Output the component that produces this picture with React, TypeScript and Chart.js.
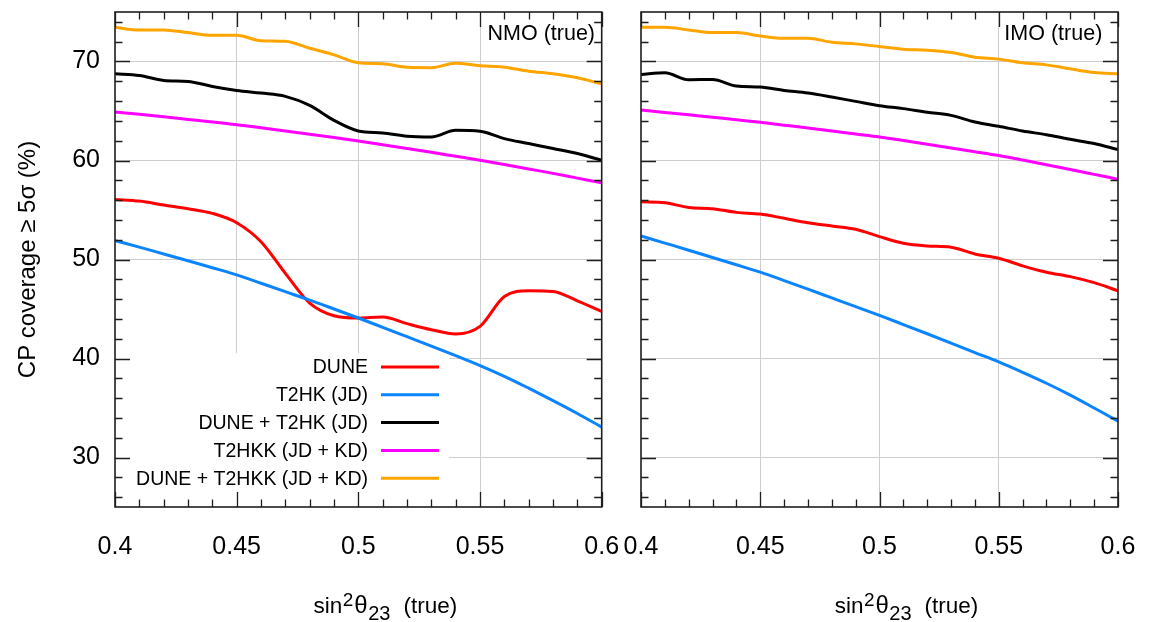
import React, { useEffect, useRef } from 'react';
import { Chart, registerables } from 'chart.js';

Chart.register(...registerables);

const FONT = '"Liberation Sans", Arial, Helvetica, sans-serif';

// sin^2(theta23) sampling points
const xValues = [0.40, 0.41, 0.42, 0.43, 0.44, 0.45, 0.46, 0.47, 0.48, 0.49, 0.50,
  0.51, 0.52, 0.53, 0.54, 0.55, 0.56, 0.57, 0.58, 0.59, 0.60];

// NMO (true) panel
const nmoDune = [56.07, 55.9, 55.5, 55.13, 54.66, 53.72, 51.8, 48.6, 45.6, 44.32, 44.09,
  44.19, 43.52, 42.91, 42.48, 43.25, 46.27, 46.84, 46.77, 45.83, 44.75];
const nmoT2hk = [51.9, 51.25, 50.56, 49.87, 49.17, 48.45, 47.6, 46.75, 45.9, 45.0, 44.09,
  43.15, 42.2, 41.25, 40.28, 39.29, 38.2, 37.0, 35.75, 34.45, 33.07];
const nmoDuneT2hk = [68.76, 68.59, 68.09, 67.99, 67.48, 67.08, 66.81, 66.48, 65.57, 64.06, 62.98,
  62.78, 62.45, 62.38, 63.05, 62.95, 62.21, 61.71, 61.21, 60.7, 60.03];
const nmoT2hkk = [64.9, 64.66, 64.41, 64.15, 63.89, 63.62, 63.31, 62.99, 62.66, 62.32, 61.97,
  61.6, 61.22, 60.83, 60.43, 60.03, 59.6, 59.15, 58.7, 58.22, 57.74];
const nmoDuneT2hkk = [73.45, 73.19, 73.19, 72.92, 72.65, 72.65, 72.1, 72.04, 71.34, 70.67, 69.87,
  69.77, 69.42, 69.38, 69.83, 69.57, 69.43, 69.02, 68.76, 68.36, 67.75];

// IMO (true) panel
const imoDune = [55.83, 55.73, 55.26, 55.13, 54.76, 54.59, 54.16, 53.72, 53.38, 53.05, 52.31,
  51.64, 51.37, 51.24, 50.56, 50.13, 49.36, 48.72, 48.27, 47.66, 46.84];
const imoT2hk = [52.38, 51.66, 50.94, 50.2, 49.47, 48.72, 47.87, 47.0, 46.12, 45.24, 44.35,
  43.43, 42.5, 41.56, 40.6, 39.65, 38.6, 37.5, 36.3, 35.0, 33.68];
const imoDuneT2hk = [68.69, 68.86, 68.16, 68.19, 67.52, 67.42, 67.08, 66.81, 66.41, 65.97, 65.54,
  65.24, 64.87, 64.56, 63.89, 63.46, 62.98, 62.61, 62.14, 61.71, 61.1];
const imoT2hkk = [65.1, 64.86, 64.62, 64.37, 64.12, 63.86, 63.57, 63.28, 62.98, 62.68, 62.38,
  62.02, 61.65, 61.27, 60.89, 60.5, 60.05, 59.58, 59.1, 58.6, 58.1];
const imoDuneT2hkk = [73.45, 73.45, 73.19, 72.92, 72.92, 72.58, 72.35, 72.35, 71.95, 71.78, 71.51,
  71.24, 71.14, 70.91, 70.44, 70.24, 69.87, 69.66, 69.26, 68.89, 68.76];

const seriesLabels = ['DUNE', 'T2HK (JD)', 'DUNE + T2HK (JD)', 'T2HKK (JD + KD)', 'DUNE + T2HKK (JD + KD)'];
const seriesColors = ['#ff0000', '#0a84ff', '#000000', '#ff00ff', '#ffa500'];

const xMajorTicks = [0.4, 0.45, 0.5, 0.55, 0.6];
const xTickLabels = ['0.4', '0.45', '0.5', '0.55', '0.6'];
const xMinorTicks = [0.41, 0.42, 0.43, 0.44, 0.46, 0.47, 0.48, 0.49, 0.51, 0.52, 0.53, 0.54,
  0.56, 0.57, 0.58, 0.59];
const yMajorTicks = [30, 40, 50, 60, 70];
const yTickLabels = ['30', '40', '50', '60', '70'];
const yMinorTicks = [26, 28, 32, 34, 36, 38, 42, 44, 46, 48, 52, 54, 56, 58, 62, 64, 66, 68, 72, 74];

const yTitle = 'CP coverage ≥ 5σ (%)';
const panelLabels = ['NMO (true)', 'IMO (true)'];
// x-axis title pieces: text, font size, baseline shift, extra gap before
const xTitleParts = [
  { text: 'sin', size: 22.5, dy: 0, gap: 0 },
  { text: '2', size: 19, dy: -7, gap: 0.5 },
  { text: 'θ', size: 24, dy: 0, gap: 1 },
  { text: '23', size: 20, dy: 7, gap: 0.5 },
  { text: '(true)', size: 22.5, dy: 0, gap: 13 },
];

const framePlugin = {
  id: 'frame',
  afterDraw(chart: any) {
    const { ctx, chartArea: a, scales } = chart;
    const xs = scales.x;
    const ys = scales.y;
    ctx.save();
    ctx.strokeStyle = '#1e1e1e';
    ctx.lineWidth = 1.3;
    ctx.beginPath();
    const xTick = (v: number, len: number) => {
      const px = Math.round(xs.getPixelForValue(v)) + 0.5;
      ctx.moveTo(px, a.bottom); ctx.lineTo(px, a.bottom - len);
      ctx.moveTo(px, a.top); ctx.lineTo(px, a.top + len);
    };
    const yTick = (v: number, len: number) => {
      const py = Math.round(ys.getPixelForValue(v)) + 0.5;
      ctx.moveTo(a.left, py); ctx.lineTo(a.left + len, py);
      ctx.moveTo(a.right, py); ctx.lineTo(a.right - len, py);
    };
    xMajorTicks.forEach((v) => xTick(v, 15));
    xMinorTicks.forEach((v) => xTick(v, 7.5));
    yMajorTicks.forEach((v) => yTick(v, 15));
    yMinorTicks.forEach((v) => yTick(v, 7.5));
    ctx.stroke();
    ctx.lineWidth = 1.6;
    ctx.strokeRect(a.left, a.top, a.right - a.left, a.bottom - a.top);
    ctx.restore();
  },
};

const xTitlePlugin = {
  id: 'xTitle',
  afterDraw(chart: any) {
    const { ctx, chartArea: a } = chart;
    ctx.save();
    ctx.fillStyle = '#000';
    ctx.textAlign = 'left';
    ctx.textBaseline = 'alphabetic';
    const widths = xTitleParts.map((p) => {
      ctx.font = p.size + 'px ' + FONT;
      return ctx.measureText(p.text).width;
    });
    const total = xTitleParts.reduce((s, p, i) => s + p.gap + widths[i], 0);
    let x = (a.left + a.right) / 2 + 27 - total / 2;
    const base = a.bottom + 106;
    xTitleParts.forEach((p, i) => {
      x += p.gap;
      ctx.font = p.size + 'px ' + FONT;
      ctx.fillText(p.text, x, base + p.dy);
      x += widths[i];
    });
    ctx.restore();
  },
};

const makePanelLabelPlugin = (text: string, rightGap: number) => ({
  id: 'panelLabel',
  afterDraw(chart: any) {
    const { ctx, chartArea: a } = chart;
    ctx.save();
    ctx.fillStyle = '#000';
    ctx.font = '21.5px ' + FONT;
    ctx.textAlign = 'right';
    ctx.textBaseline = 'alphabetic';
    ctx.fillText(text, a.right - rightGap, a.top + 28);
    ctx.restore();
  },
});

const legendPlugin = {
  id: 'insetLegend',
  beforeDatasetsDraw(chart: any) {
    const { ctx, chartArea: a } = chart;
    ctx.save();
    ctx.fillStyle = '#ffffff';
    ctx.fillRect(a.left + 1, a.top + 341, 333, a.bottom - a.top - 342);
    ctx.restore();
  },
  afterDatasetsDraw(chart: any) {
    const { ctx, chartArea: a } = chart;
    ctx.save();
    ctx.font = '19.5px ' + FONT;
    ctx.textAlign = 'right';
    ctx.textBaseline = 'middle';
    chart.data.datasets.forEach((ds: any, i: number) => {
      const yy = a.top + 355 + i * 27.8;
      ctx.fillStyle = '#000';
      ctx.fillText(ds.label, a.left + 253, yy + 1);
      ctx.strokeStyle = ds.borderColor;
      ctx.lineWidth = 3;
      ctx.beginPath();
      ctx.moveTo(a.left + 266, yy);
      ctx.lineTo(a.left + 324, yy);
      ctx.stroke();
    });
    ctx.restore();
  },
};

function buildConfig(series: number[][], isLeft: boolean): any {
  const canvasW = isLeft ? 640 : 553;
  const yAxisW = isLeft ? 115 : 41;
  const rightPad = isLeft ? canvasW - 601.7 : canvasW - 518;
  return {
    type: 'line',
    data: {
      datasets: seriesLabels.map((label, i) => ({
        label,
        data: xValues.map((x, j) => ({ x, y: series[i][j] })),
        borderColor: seriesColors[i],
        backgroundColor: seriesColors[i],
        borderWidth: 3,
        pointRadius: 0,
        fill: false,
        cubicInterpolationMode: 'monotone',
        order: seriesLabels.length - i,
      })),
    },
    options: {
      animation: false,
      responsive: false,
      events: [],
      layout: { padding: { left: 0, top: 12, right: rightPad, bottom: 0 } },
      plugins: { legend: { display: false }, tooltip: { enabled: false } },
      scales: {
        x: {
          type: 'linear',
          min: 0.4,
          max: 0.6,
          afterBuildTicks: (s: any) => { s.ticks = xMajorTicks.map((v) => ({ value: v })); },
          afterFit: (s: any) => { s.height = 115; s.paddingLeft = 0; s.paddingRight = 0; },
          border: { display: false },
          grid: {
            drawTicks: false,
            lineWidth: 1,
            color: (c: any) => {
              const v = c.tick ? c.tick.value : 0;
              return v < 0.401 || v > 0.599 ? 'rgba(0,0,0,0)' : '#cdcdcd';
            },
          },
          ticks: {
            padding: 25,
            autoSkip: false,
            maxRotation: 0,
            color: '#000',
            font: { family: FONT, size: 25 },
            callback: (v: number) => {
              const k = xMajorTicks.findIndex((t) => Math.abs(t - v) < 1e-6);
              return k >= 0 ? xTickLabels[k] : '';
            },
          },
        },
        y: {
          type: 'linear',
          min: 25,
          max: 75,
          afterBuildTicks: (s: any) => { s.ticks = yMajorTicks.map((v) => ({ value: v })); },
          afterFit: (s: any) => { s.width = yAxisW; s.paddingTop = 0; s.paddingBottom = 0; },
          border: { display: false },
          grid: { drawTicks: false, lineWidth: 1, color: '#cdcdcd' },
          ticks: {
            display: isLeft,
            padding: 15,
            color: '#000',
            font: { family: FONT, size: 25 },
            callback: (v: number) => {
              const k = yMajorTicks.indexOf(v);
              return k >= 0 ? yTickLabels[k] : '';
            },
          },
          title: {
            display: isLeft,
            text: yTitle,
            color: '#000',
            font: { family: FONT, size: 24 },
            padding: { top: 13.6, bottom: 0 },
          },
        },
      },
    },
    plugins: [
      ...(isLeft ? [legendPlugin] : []),
      framePlugin,
      xTitlePlugin,
      makePanelLabelPlugin(isLeft ? panelLabels[0] : panelLabels[1], isLeft ? 6.7 : 15.7),
    ],
  };
}

const nmoSeries = [nmoDune, nmoT2hk, nmoDuneT2hk, nmoT2hkk, nmoDuneT2hkk];
const imoSeries = [imoDune, imoT2hk, imoDuneT2hk, imoT2hkk, imoDuneT2hkk];

export default function App() {
  const leftRef = useRef<HTMLCanvasElement>(null);
  const rightRef = useRef<HTMLCanvasElement>(null);

  useEffect(() => {
    const c1 = new Chart(leftRef.current as HTMLCanvasElement, buildConfig(nmoSeries, true));
    const c2 = new Chart(rightRef.current as HTMLCanvasElement, buildConfig(imoSeries, false));
    return () => {
      c1.destroy();
      c2.destroy();
    };
  }, []);

  return (
    <div style={{ position: 'fixed', left: 0, top: 0, width: 1153, height: 622, background: '#ffffff', overflow: 'hidden' }}>
      <canvas ref={leftRef} width={640} height={622}
        style={{ position: 'absolute', left: 0, top: 0, width: 640, height: 622 }} />
      <canvas ref={rightRef} width={553} height={622}
        style={{ position: 'absolute', left: 600, top: 0, width: 553, height: 622 }} />
    </div>
  );
}
